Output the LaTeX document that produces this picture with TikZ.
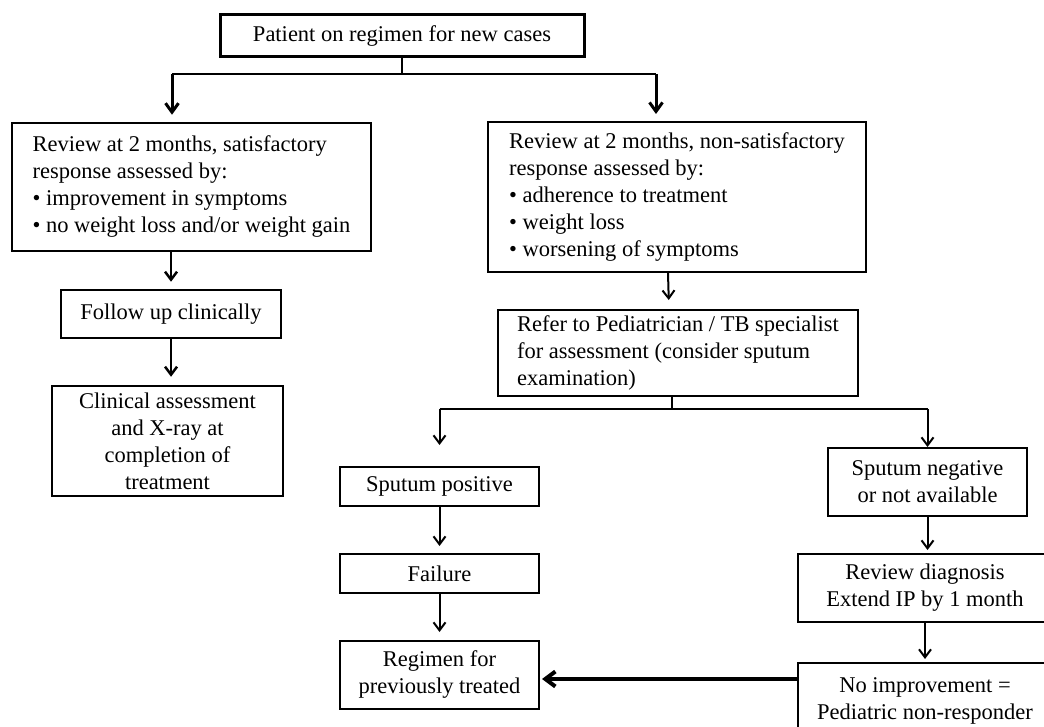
\documentclass[tikz,border=0pt]{standalone}
\usepackage{fontspec}
\setmainfont{Liberation Serif}
\usetikzlibrary{arrows.meta,calc}
\begin{document}
\begin{tikzpicture}[x=1pt,y=-1pt,
  box/.style={draw, line width=2pt, inner sep=0pt, font=\fontsize{22.5}{27}\selectfont, align=center},
  lbox/.style={box, align=left},
  conn/.style={line width=2pt},
  arr/.style={line width=2pt, -{Straight Barb[length=8pt,width=12pt]}},
  arrT/.style={line width=3pt, -{Straight Barb[length=9pt,width=13pt]}},
  arrB/.style={line width=4pt, -{Straight Barb[length=10pt,width=15pt]}}
]
\useasboundingbox (0,0) rectangle (1044,727);
\clip (0,0) rectangle (1044,727);
\fill[white] (0,0) rectangle (1044,727);

\node[box, line width=3pt, minimum width=364pt, minimum height=42pt] (top) at (402,36) {Patient on regimen for new cases};
\node[lbox, line width=2.5pt, minimum width=359pt, minimum height=128pt] (L1) at (191.5,187) {Review at 2 months, satisfactory\\response assessed by:\\• improvement in symptoms\\• no weight loss and/or weight gain};
\node[box, line width=2.5pt, minimum width=220pt, minimum height=48pt] (L2) at (171,314) {Follow up clinically};
\node[box, line width=2.5pt, minimum width=231pt, minimum height=110pt] (L3) at (167.5,441) {Clinical assessment\\and X-ray at\\completion of\\treatment};
\node[lbox, minimum width=378pt, minimum height=150pt] (R1) at (677,197) {Review at 2 months, non-satisfactory\\response assessed by:\\• adherence to treatment\\• weight loss\\• worsening of symptoms};
\node[lbox, minimum width=360pt, minimum height=86pt] (R2) at (678,353) {Refer to Pediatrician / TB specialist\\for assessment (consider sputum\\examination)};
\node[box, minimum width=199pt, minimum height=39pt] (SP) at (439.5,486.5) {Sputum positive};
\node[box, minimum width=199pt, minimum height=39pt] (FA) at (439.5,573.5) {Failure};
\node[box, minimum width=199pt, minimum height=68pt] (RG) at (439.5,675) {Regimen for\\previously treated};
\node[box, minimum width=199pt, minimum height=68pt] (SN) at (927.5,482) {Sputum negative\\or not available};
\node[box, minimum width=254pt, minimum height=68pt] (RD) at (925,588) {Review diagnosis\\Extend IP by 1 month};
\node[box, minimum width=254pt, minimum height=76pt, anchor=north] (NI) at (925,662) {No improvement =\\Pediatric non-responder};

% top branching
\draw[conn] (top.south) -- ++(0,16) coordinate (j1);
\coordinate (aL) at ($(L1.north)+(-19.5,0)$);
\coordinate (aR) at ($(R1.north)+(-21,0)$);
\draw[conn] (j1 -| aL) -- (j1 -| aR);
\draw[arrT, shorten >=7pt] (j1 -| aL) -- (aL);
\draw[arrT, shorten >=7pt] (j1 -| aR) -- (aR);

% left column
\draw[arr, line width=2.5pt, shorten >=7pt] (L2.north |- L1.south) -- (L2.north);
\draw[arr, line width=2.5pt, shorten >=8pt] (L2.south) -- (L3.north -| L2.south);

% right column
\draw[arr, shorten >=9pt] ($(R1.south)+(-9,0)$) -- ($(R2.north)+(-9,0)$);
\draw[conn] ($(R2.south)+(-6,0)$) -- ++(0,12) coordinate (j2);
\draw[conn] (j2 -| SP) -- (j2 -| SN);
\draw[arr, shorten >=21pt] (j2 -| SP) -- (SP.north);
\draw[arr] (j2 -| SN) -- (SN.north);
\draw[arr, shorten >=7pt] (SP) -- (FA);
\draw[arr, shorten >=8pt] (FA) -- (RG);
\draw[arr, shorten >=3pt] (SN.south) -- (SN.south |- RD.north);
\draw[arr, shorten >=3pt] (RD) -- (NI);
\draw[arrB, shorten >=2pt] ($(NI.west |- RG.east)+(0,4)$) -- ($(RG.east)+(0,4)$);
\end{tikzpicture}
\end{document}
